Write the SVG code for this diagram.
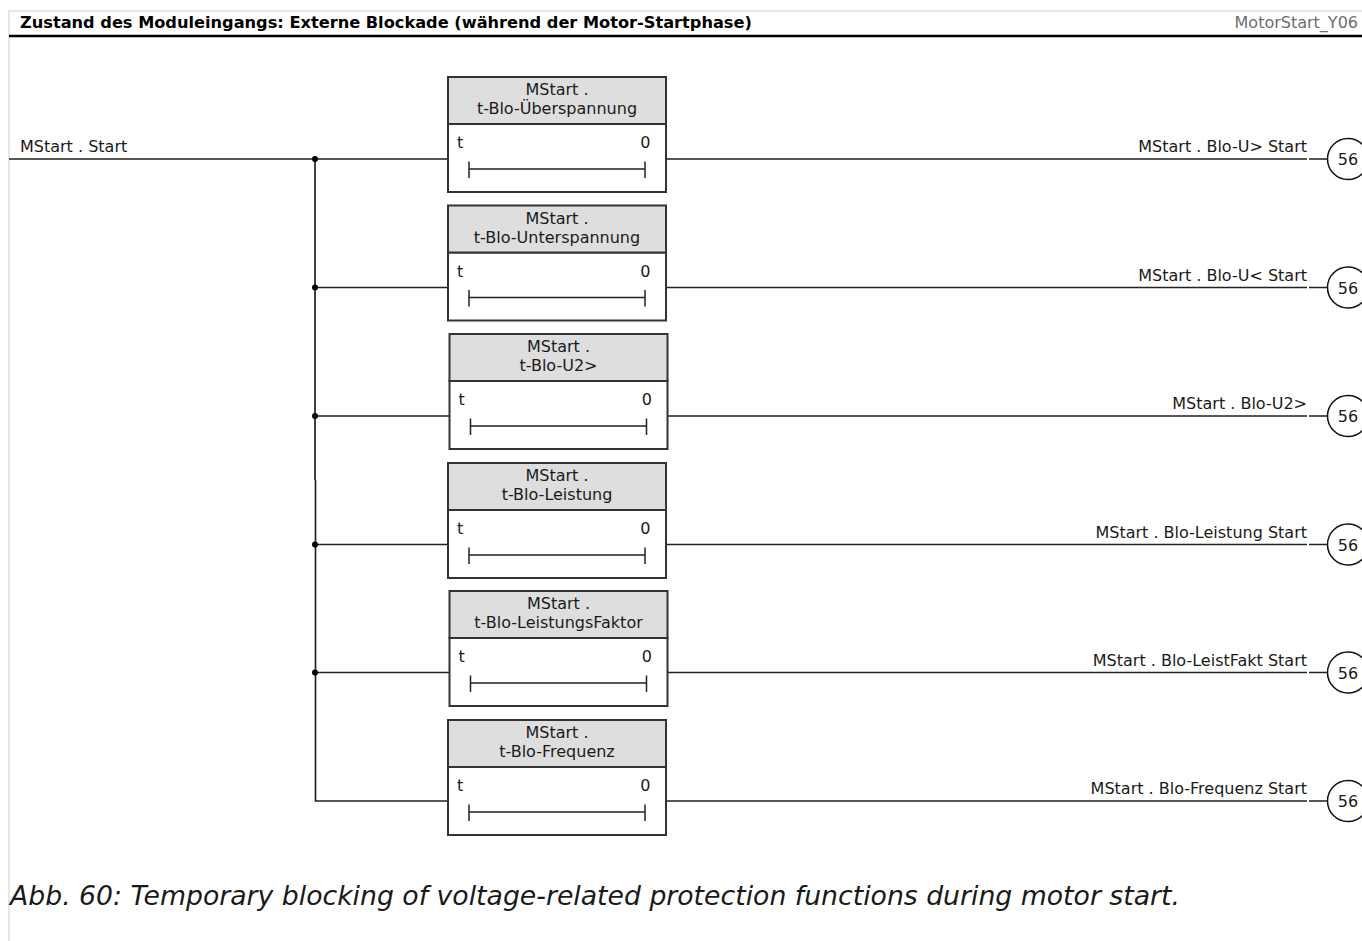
<svg xmlns="http://www.w3.org/2000/svg" width="1362" height="941" viewBox="0 0 1362 941">
<style>
text{font-family:"DejaVu Sans","Noto Sans",sans-serif;font-size:16px;fill:#1a1a1a}
.title{font-weight:bold;font-size:16.2px;fill:#000}
.ref{fill:#6e6e6e}
.cap{font-style:italic;font-size:26.7px}
.mid{text-anchor:middle}
.end{text-anchor:end}
.hdr{fill:#dedede;stroke:#333;stroke-width:2}
.body{fill:#fff;stroke:#333;stroke-width:2}
.bar{stroke:#222;stroke-width:1.5;fill:none}
.wire{stroke:#222;stroke-width:1.7;fill:none}
.wire0{stroke:#555;stroke-width:2.2;fill:none}
.dot{fill:#000}
.circ{fill:#fff;stroke:#111;stroke-width:1.5}
</style>
<defs>
<g id="timer">
<rect class="body" x="0" y="47" width="218" height="68"/>
<rect class="hdr" x="0" y="0" width="218" height="47"/>
<text x="9" y="71">t</text>
<text class="end" x="202.5" y="71">0</text>
<path class="bar" d="M21 92H197M21 84.5V101M197 84.5V101"/>
</g>
</defs>
<rect x="0" y="0" width="1362" height="941" fill="#fff"/>
<path d="M9 941V11H1362" fill="none" stroke="#e6e6e6" stroke-width="2"/>
<path d="M9 36H1362" stroke="#000" stroke-width="2.5"/>
<text class="title" x="20" y="28">Zustand des Moduleingangs: Externe Blockade (während der Motor-Startphase)</text>
<text class="ref end" x="1358" y="28">MotorStart_Y06</text>

<g id="connectors">
<text x="20" y="152">MStart . Start</text>
<path class="wire0" d="M9 159H448"/>
<path class="wire" d="M315 159V480M315.5 480V801H448"/>
<path class="wire" d="M315 287.5H448M315 416H450M315 544.5H448M315 672.5H450"/>
<circle class="dot" cx="315" cy="159" r="3"/>
<circle class="dot" cx="315" cy="287.5" r="3"/>
<circle class="dot" cx="315" cy="416" r="3"/>
<circle class="dot" cx="315" cy="544.5" r="3"/>
<circle class="dot" cx="315" cy="672.5" r="3"/>
<path class="wire0" d="M666 159H1307M1309 159H1327.5"/>
<path class="wire" d="M666 287.5H1307M1309 287.5H1327.5"/>
<path class="wire" d="M667 416H1307M1309 416H1327.5"/>
<path class="wire" d="M666 544.5H1307M1309 544.5H1327.5"/>
<path class="wire" d="M667 672.5H1307M1309 672.5H1327.5"/>
<path class="wire" d="M666 801H1307M1309 801H1327.5"/>
</g>

<g id="t1" transform="translate(448,77)">
<use href="#timer"/>
<text class="mid" x="109" y="18">MStart .</text>
<text class="mid" x="109" y="37">t-Blo-Überspannung</text>
</g>
<g id="t2" transform="translate(448,205.5)">
<use href="#timer"/>
<text class="mid" x="109" y="18">MStart .</text>
<text class="mid" x="109" y="37">t-Blo-Unterspannung</text>
</g>
<g id="t3" transform="translate(449.5,334)">
<use href="#timer"/>
<text class="mid" x="109" y="18">MStart .</text>
<text class="mid" x="109" y="37">t-Blo-U2&gt;</text>
</g>
<g id="t4" transform="translate(448,463)">
<use href="#timer"/>
<text class="mid" x="109" y="18">MStart .</text>
<text class="mid" x="109" y="37">t-Blo-Leistung</text>
</g>
<g id="t5" transform="translate(449.5,591)">
<use href="#timer"/>
<text class="mid" x="109" y="18">MStart .</text>
<text class="mid" x="109" y="37">t-Blo-LeistungsFaktor</text>
</g>
<g id="t6" transform="translate(448,720)">
<use href="#timer"/>
<text class="mid" x="109" y="18">MStart .</text>
<text class="mid" x="109" y="37">t-Blo-Frequenz</text>
</g>

<g id="o1"><text class="end" x="1307" y="152">MStart . Blo-U&gt; Start</text><circle class="circ" cx="1348" cy="159" r="20.5"/><text class="mid" x="1348" y="165">56</text></g>
<g id="o2"><text class="end" x="1307" y="280.5">MStart . Blo-U&lt; Start</text><circle class="circ" cx="1348" cy="287.5" r="20.5"/><text class="mid" x="1348" y="293.5">56</text></g>
<g id="o3"><text class="end" x="1307" y="409">MStart . Blo-U2&gt;</text><circle class="circ" cx="1348" cy="416" r="20.5"/><text class="mid" x="1348" y="422">56</text></g>
<g id="o4"><text class="end" x="1307" y="537.5">MStart . Blo-Leistung Start</text><circle class="circ" cx="1348" cy="544.5" r="20.5"/><text class="mid" x="1348" y="550.5">56</text></g>
<g id="o5"><text class="end" x="1307" y="665.5">MStart . Blo-LeistFakt Start</text><circle class="circ" cx="1348" cy="672.5" r="20.5"/><text class="mid" x="1348" y="678.5">56</text></g>
<g id="o6"><text class="end" x="1307" y="794">MStart . Blo-Frequenz Start</text><circle class="circ" cx="1348" cy="801" r="20.5"/><text class="mid" x="1348" y="807">56</text></g>

<text class="cap" x="10" y="905">Abb. 60: Temporary blocking of voltage-related protection functions during motor start.</text>
</svg>
